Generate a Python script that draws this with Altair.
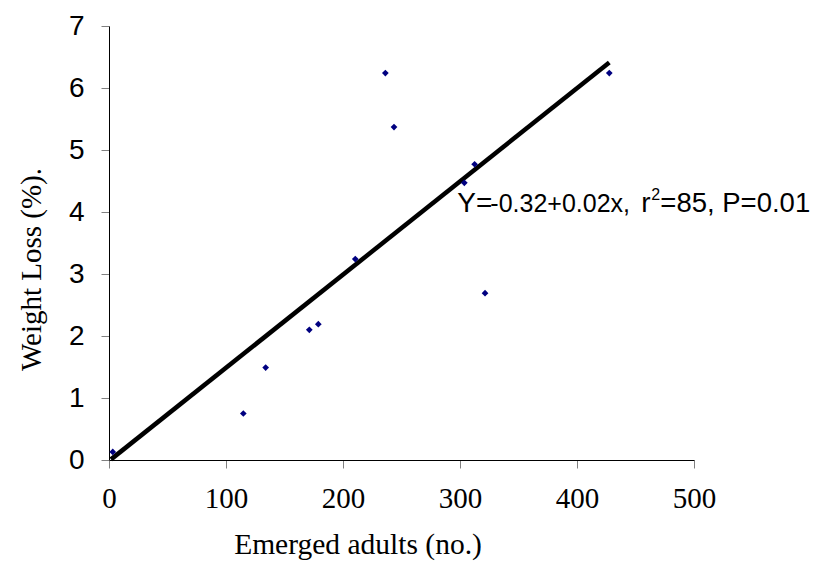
import altair as alt
import pandas as pd

# Observed data points
emerged_adults = [3.2, 114.8, 133.9, 171.2, 178.9, 210.5, 236.2, 243.6, 303.7, 312.5, 321.4, 427.6]
weight_loss = [0.13, 0.75, 1.49, 2.10, 2.19, 3.24, 6.24, 5.37, 4.47, 4.77, 2.69, 6.24]

# Fitted regression line (as drawn)
fit_x = [1.7, 427.6]
fit_y = [0.01, 6.41]

# Annotation
ann_x = [296]
ann_y = [4.0]
ann_texts = ["Y=", "-0.32+0.02x,", "r", "2", "=85, P=0.01"]

x_ticks = [0, 100, 200, 300, 400, 500]
y_ticks = [0, 1, 2, 3, 4, 5, 6, 7]

pts = pd.DataFrame({"x": emerged_adults, "y": weight_loss})
fit = pd.DataFrame({"x": fit_x, "y": fit_y})
ann = pd.DataFrame({"x": ann_x, "y": ann_y})

xscale = alt.Scale(domain=[0, 500], nice=False, zero=False)
yscale = alt.Scale(domain=[0, 7], nice=False, zero=False)

xaxis = alt.Axis(
    values=x_ticks, grid=False, labelFont="Liberation Serif", labelFontSize=29,
    labelColor="black", labelPadding=16, labelFlush=False, tickSize=8,
    tickColor="#808080", domainColor="black", domainWidth=1,
    title="Emerged adults (no.)", titleFont="Liberation Serif", titleFontSize=29.5,
    titleFontWeight="normal", titleColor="black", titleX=248.5, titleY=93,
    titleBaseline="alphabetic", titleAlign="center",
)
yaxis = alt.Axis(
    values=y_ticks, grid=False, labelFont="Liberation Sans", labelFontSize=28,
    labelColor="black", labelPadding=17, labelFlush=False, tickSize=8,
    tickColor="#808080", domainColor="black", domainWidth=1,
    title="Weight Loss (%).", titleFont="Liberation Serif", titleFontSize=29,
    titleFontWeight="normal", titleColor="black", titleAngle=270,
    titleX=-69, titleY=243, titleBaseline="alphabetic", titleAlign="center",
)

X = alt.X("x:Q", scale=xscale, axis=xaxis)
Y = alt.Y("y:Q", scale=yscale, axis=yaxis)

line = alt.Chart(fit).mark_line(color="black", strokeWidth=4.5, strokeCap="butt").encode(x=X, y=Y)
points = alt.Chart(pts).mark_point(shape="diamond", filled=True, color="#000080", size=45, opacity=1).encode(x=X, y=Y)

def piece(text, size, dx, dy=0):
    return alt.Chart(ann).mark_text(
        text=text, align="left", baseline="alphabetic", font="Liberation Sans",
        fontSize=size, dx=dx, dy=dy, color="black",
    ).encode(x=X, y=Y)

texts = [
    piece(ann_texts[0], 28, 2),
    piece(ann_texts[1], 25, 35),
    piece(ann_texts[2], 28, 186),
    piece(ann_texts[3], 16, 196, -12),
    piece(ann_texts[4], 27.5, 205),
]

chart = alt.layer(line, points, *texts).properties(
    width=585, height=434,
    autosize=alt.AutoSizeParams(type="none"),
    padding={"left": 101, "top": 18, "right": 120, "bottom": 102},
    background="white",
).configure_view(stroke=None)

chart.save("out.html", embed_options={"renderer": "svg", "actions": False})
